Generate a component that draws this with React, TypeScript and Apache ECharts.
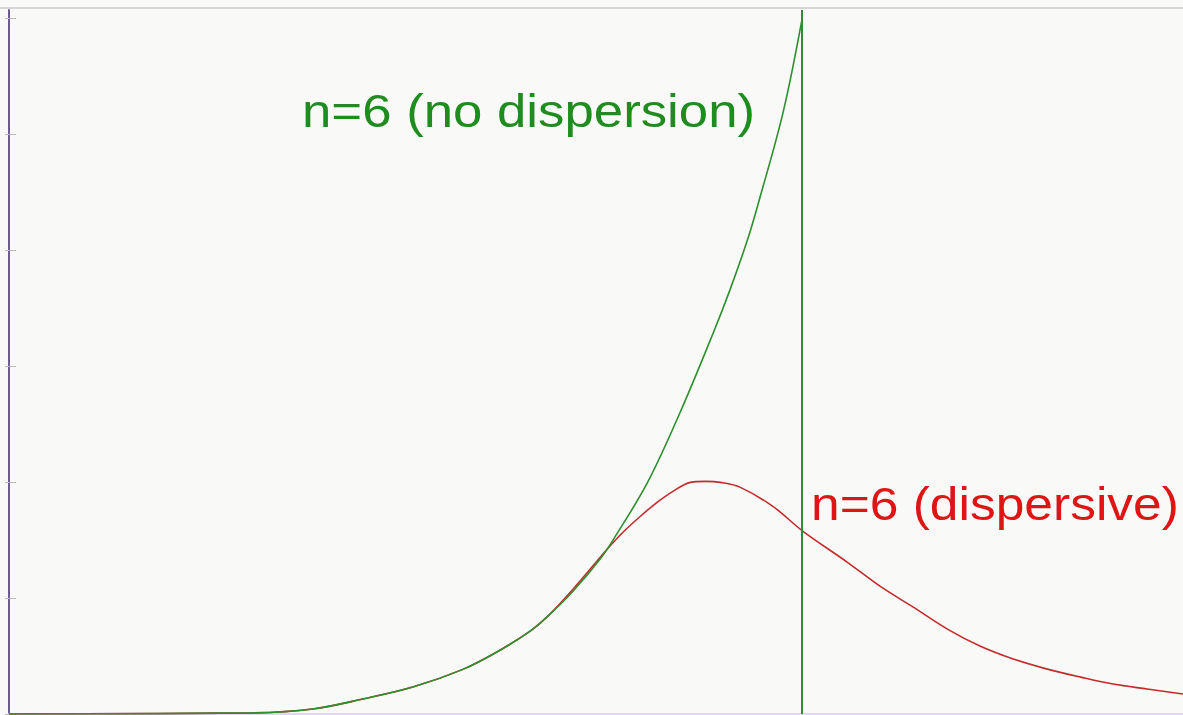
import React, { useEffect, useRef } from "react";
import * as echarts from "echarts";

// x: time axis (vertical green line at 100), y: amplitude
const greenX = [0, 30.8, 38.3, 44.6, 50.9, 57.3, 61.5, 65.7, 67.8, 71.1, 74.5, 76.2, 80.5, 84.6, 88.8, 90.9, 93.1, 94.45, 97.6, 100];
const greenY = [0, 0.01, 0.043, 0.129, 0.232, 0.387, 0.534, 0.715, 0.835, 1.059, 1.334, 1.506, 1.997, 2.6, 3.289, 3.659, 4.089, 4.4, 5.192, 6.0];

const redX = [0, 30.8, 38.3, 44.6, 50.9, 57.3, 61.5, 65.7, 67.8, 71.1, 75.4, 77.4, 79.6, 81.7, 83.7, 85.9, 87.8, 89.7, 92.2, 96.3, 100.1, 105.7, 109.8, 114.0, 118.3, 122.4, 126.6, 130.9, 135.1, 139.2, 143.5, 148.0];
const redY = [0, 0.01, 0.043, 0.129, 0.232, 0.387, 0.534, 0.715, 0.835, 1.076, 1.42, 1.567, 1.705, 1.825, 1.92, 1.997, 2.006, 1.997, 1.954, 1.79, 1.575, 1.308, 1.102, 0.921, 0.732, 0.586, 0.474, 0.387, 0.318, 0.258, 0.215, 0.172];

const yTicks = [0, 1, 2, 3, 4, 5, 6];
const cutoffX = 100;
const labelGreen = "n=6 (no dispersion)";
const labelRed = "n=6 (dispersive)";

export default function App() {
  const ref = useRef<HTMLDivElement>(null);
  useEffect(() => {
    if (!ref.current) return;
    const chart = echarts.init(ref.current, null, { renderer: "svg" });
    const font = '46px "Liberation Sans", Arial, sans-serif';
    chart.setOption({
      animation: false,
      backgroundColor: "#f9f9f7",
      grid: { left: 9, right: 0, top: 10, bottom: 1 },
      xAxis: {
        type: "value",
        min: 0,
        max: 148,
        axisLine: { show: true, lineStyle: { color: "#e2d6f2", width: 2 } },
        axisTick: { show: false },
        axisLabel: { show: false },
        splitLine: { show: false },
      },
      yAxis: [
        {
          type: "value",
          min: 0,
          max: 6.07,
          axisLine: { show: true, lineStyle: { color: "#6b5b95", width: 2 } },
          axisTick: { show: true, inside: false, length: 4, customValues: yTicks, lineStyle: { color: "#b8b8b8" } },
          axisLabel: { show: false },
          splitLine: { show: false },
        },
        {
          type: "value",
          position: "left",
          min: 0,
          max: 6.07,
          axisLine: { show: false },
          axisTick: { show: true, inside: true, length: 7, customValues: yTicks, lineStyle: { color: "#b8b8b8" } },
          axisLabel: { show: false },
          splitLine: { show: false },
        },
      ],
      series: [
        {
          type: "line",
          data: redX.map((x, i) => [x, redY[i]]),
          smooth: 0.35,
          showSymbol: false,
          lineStyle: { color: "#c42a2a", width: 1.6 },
          z: 2,
        },
        {
          type: "line",
          data: greenX.map((x, i) => [x, greenY[i]]),
          smooth: 0.35,
          showSymbol: false,
          lineStyle: { color: "#2e8f2e", width: 1.6 },
          z: 3,
          markLine: {
            silent: true,
            symbol: "none",
            label: { show: false },
            lineStyle: { color: "#2e8f2e", width: 2, type: "solid" },
            data: [{ xAxis: cutoffX }],
          },
        },
      ],
      graphic: [
        {
          type: "line",
          shape: { x1: 0, y1: 8, x2: 1183, y2: 8 },
          style: { stroke: "#d6d6d6", lineWidth: 2 },
          z: 10,
        },
        {
          type: "text",
          x: 302,
          y: 111,
          scaleX: 1.147,
          style: { text: labelGreen, font, fill: "#1f8c1f", textAlign: "left", textVerticalAlign: "middle" },
          z: 10,
        },
        {
          type: "text",
          x: 811,
          y: 504,
          scaleX: 1.12,
          style: { text: labelRed, font, fill: "#dd1515", textAlign: "left", textVerticalAlign: "middle" },
          z: 10,
        },
      ],
    });
    return () => chart.dispose();
  }, []);
  return (
    <div
      ref={ref}
      style={{ position: "absolute", left: 0, top: 0, width: 1183, height: 715, background: "#f9f9f7" }}
    />
  );
}
